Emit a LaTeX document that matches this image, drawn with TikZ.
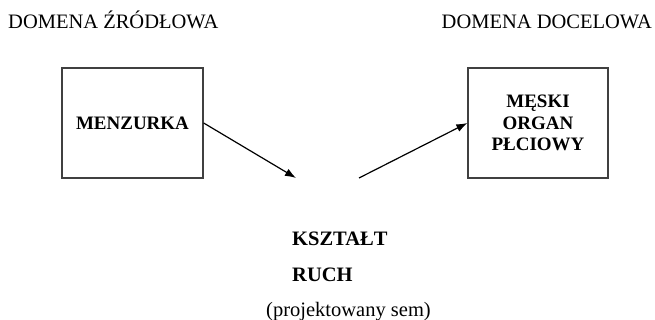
\documentclass[tikz,border=0pt]{standalone}
\usepackage{fontspec}
\setmainfont{Liberation Serif}
\usetikzlibrary{arrows.meta}

\begin{document}
\begin{tikzpicture}[x=1pt,y=-1pt,
	domainbox/.style={draw=black!75,line width=1.3pt,minimum width=141pt,minimum height=110pt,align=center,font=\fontsize{19}{21.5}\selectfont\bfseries,inner sep=0pt},
	heading/.style={font=\fontsize{20.5}{24}\selectfont,inner sep=0pt},
	semtext/.style={font=\fontsize{20.5}{24}\selectfont\bfseries,inner sep=0pt,anchor=base west},
	map/.style={line width=1.2pt,-{Latex[length=11pt,width=8pt]}}]
	\useasboundingbox (0,0) rectangle (655,320);
	\node[heading,anchor=base west] (src) at (8,29) {DOMENA ŹRÓDŁOWA};
	\node[heading,anchor=base east] (tgt) at (652,29) {DOMENA DOCELOWA};
	\node[domainbox] (menzurka) at (132.5,123) {MENZURKA};
	\node[domainbox,minimum width=140pt] (organ) at (538,123) {MĘSKI\\ORGAN\\PŁCIOWY};
	\coordinate (in) at (296,178);
	\coordinate (out) at (359,178);
	\draw[map] (menzurka.east) -- (in);
	\draw[map] (out) -- (organ.west);
	\node[semtext] (ksztalt) at (292,245) {KSZTAŁT};
	\node[semtext] (ruch) at (292,281) {RUCH};
	\node[heading,anchor=base] (projekt) at (348.5,316) {(projektowany sem)};
\end{tikzpicture}
\end{document}
